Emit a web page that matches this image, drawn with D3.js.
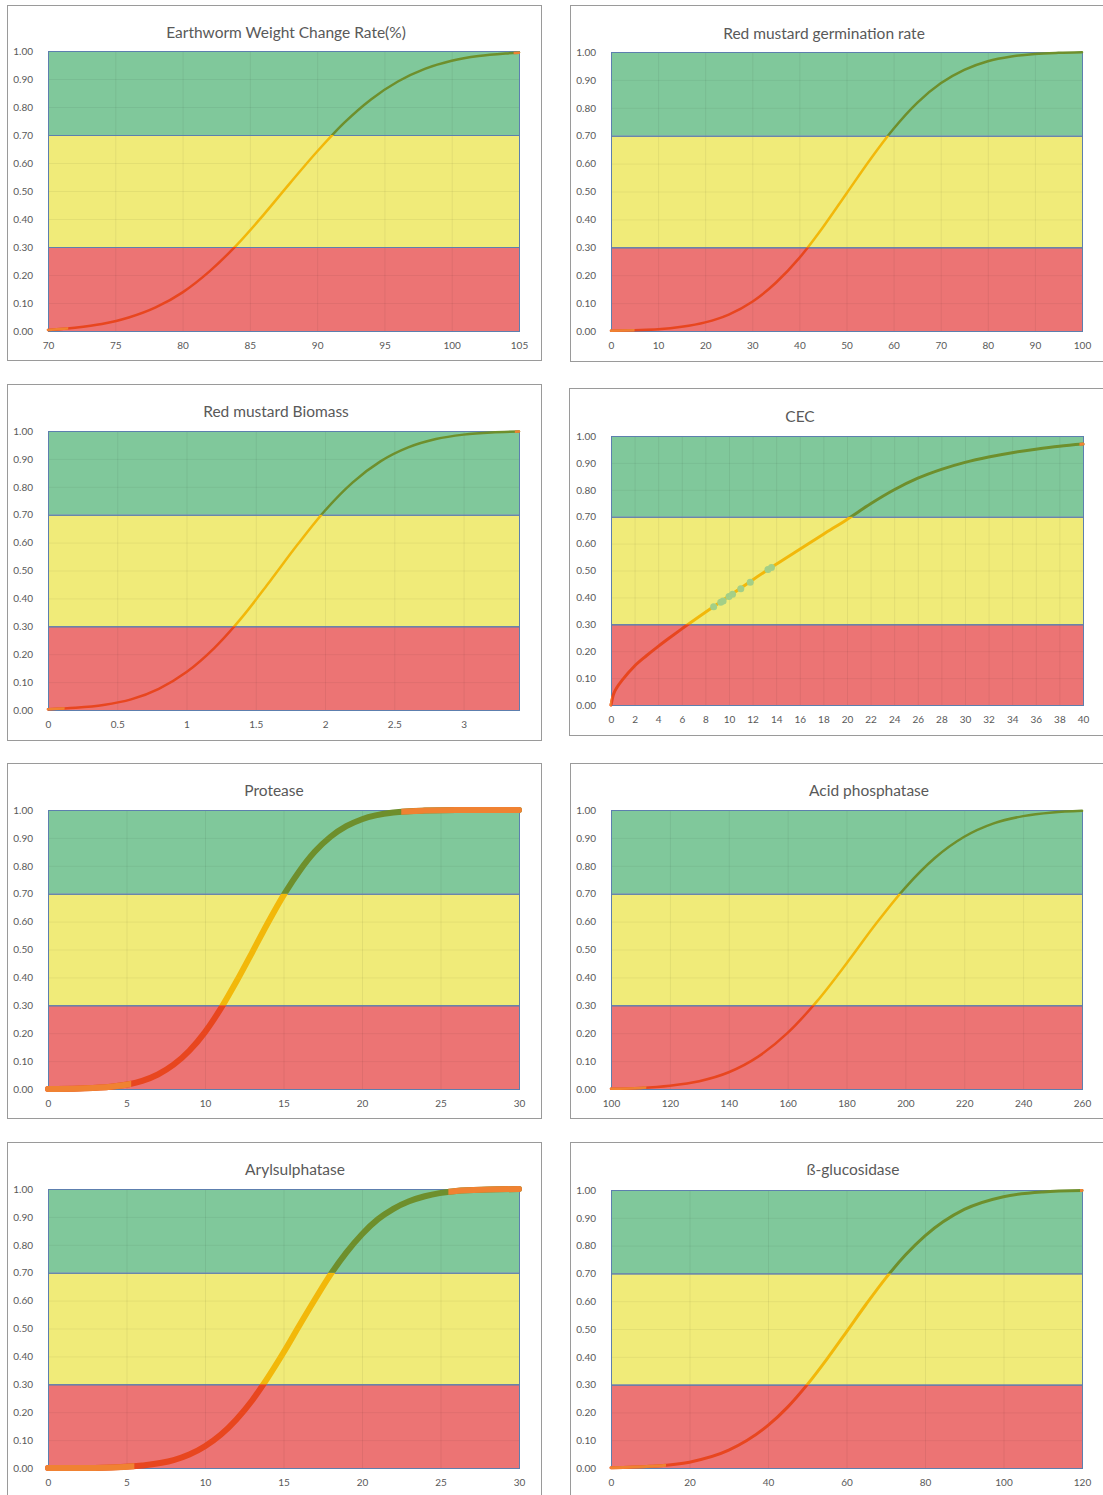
<!DOCTYPE html>
<html>
<head>
<meta charset="utf-8">
<script src="https://cdn.jsdelivr.net/npm/d3@7"></script>
<style>
  body { margin: 0; background: #fff; }
  svg text { font-family: Lato, "Open Sans", sans-serif; fill: #595959; }
</style>
</head>
<body>
<svg id="chart" width="1103" height="1495"></svg>
<script>
// ---- data ----
const titles = ["Earthworm Weight Change Rate(%)", "Red mustard germination rate", "Red mustard Biomass", "CEC",
  "Protease", "Acid phosphatase", "Arylsulphatase", "ß-glucosidase"];

const yTicks = [0, 0.1, 0.2, 0.3, 0.4, 0.5, 0.6, 0.7, 0.8, 0.9, 1.0];
const bandEdges = [0, 0.3, 0.7, 1.0];

const earthwormX = [70, 72, 74, 76, 78, 80, 82, 84, 86, 88, 90, 92, 94, 96, 98, 100, 102, 104, 105];
const earthwormY = [0.004, 0.012, 0.025, 0.048, 0.084, 0.138, 0.213, 0.306, 0.414, 0.529, 0.641, 0.743, 0.827, 0.891, 0.936, 0.965, 0.982, 0.991, 0.994];
const earthwormTicks = [70, 75, 80, 85, 90, 95, 100, 105];
const earthwormTails = [[70, 71.5], [104.6, 105]];

const germX = [0, 5, 10, 15, 20, 25, 30, 35, 40, 45, 50, 55, 60, 65, 70, 75, 80, 85, 90, 95, 100];
const germY = [0.001, 0.003, 0.006, 0.015, 0.031, 0.059, 0.105, 0.173, 0.262, 0.372, 0.493, 0.614, 0.725, 0.818, 0.888, 0.936, 0.967, 0.984, 0.993, 0.997, 0.999];
const germTicks = [0, 10, 20, 30, 40, 50, 60, 70, 80, 90, 100];
const germTails = [[0, 5]];

const biomassX = [0, 0.2, 0.4, 0.6, 0.8, 1.0, 1.2, 1.4, 1.6, 1.8, 2.0, 2.2, 2.4, 2.6, 2.8, 3.0, 3.2, 3.4];
const biomassY = [0.003, 0.008, 0.018, 0.038, 0.076, 0.136, 0.222, 0.332, 0.46, 0.592, 0.715, 0.816, 0.891, 0.941, 0.971, 0.987, 0.995, 0.998];
const biomassTicks = [0, 0.5, 1, 1.5, 2, 2.5, 3];
const biomassTails = [[0, 0.12], [3.37, 3.4]];

const cecX = [0, 0.2, 0.5, 1, 2, 3, 4, 5, 6, 8, 10, 12, 14, 16, 18, 20, 22, 24, 26, 28, 30, 32, 34, 36, 38, 40];
const cecY = [0, 0.038, 0.065, 0.095, 0.145, 0.183, 0.218, 0.251, 0.283, 0.345, 0.405, 0.465, 0.523, 0.579, 0.635, 0.69, 0.748, 0.8, 0.843, 0.876, 0.902, 0.922, 0.938, 0.951, 0.962, 0.97];
const cecTicks = [0, 2, 4, 6, 8, 10, 12, 14, 16, 18, 20, 22, 24, 26, 28, 30, 32, 34, 36, 38, 40];
const cecTails = [[0, 0.05], [39.7, 40]];
const cecSampleX = [8.7, 9.3, 9.5, 10.0, 10.3, 11.0, 11.8, 13.3, 13.6];
const cecSampleY = [0.365, 0.382, 0.387, 0.403, 0.412, 0.432, 0.456, 0.504, 0.511];

const proteaseX = [0, 2, 4, 6, 7, 8, 9, 10, 11, 12, 13, 14, 15, 16, 17, 18, 19, 20, 22, 24, 26, 28, 30];
const proteaseY = [0.0, 0.002, 0.008, 0.029, 0.052, 0.087, 0.137, 0.204, 0.288, 0.385, 0.489, 0.595, 0.694, 0.78, 0.851, 0.904, 0.942, 0.967, 0.991, 0.998, 1.0, 1.0, 1.0];
const proteaseTicks = [0, 5, 10, 15, 20, 25, 30];
const proteaseTails = [[0, 5.3], [22.5, 30]];

const acidX = [100, 110, 120, 130, 140, 150, 160, 170, 180, 190, 200, 210, 220, 230, 240, 250, 260];
const acidY = [0.001, 0.004, 0.012, 0.028, 0.06, 0.116, 0.201, 0.315, 0.45, 0.592, 0.722, 0.828, 0.904, 0.952, 0.978, 0.991, 0.997];
const acidTicks = [100, 120, 140, 160, 180, 200, 220, 240, 260];
const acidTails = [[100, 112]];

const arylX = [0, 2, 4, 6, 8, 9, 10, 11, 12, 13, 14, 15, 16, 17, 18, 19, 20, 21, 22, 23, 24, 26, 28, 30];
const arylY = [0.0, 0.0, 0.002, 0.009, 0.028, 0.048, 0.078, 0.119, 0.174, 0.242, 0.324, 0.414, 0.51, 0.604, 0.694, 0.772, 0.838, 0.891, 0.929, 0.956, 0.974, 0.993, 0.998, 1.0];
const arylTicks = [0, 5, 10, 15, 20, 25, 30];
const arylTails = [[0, 5.5], [25.5, 30]];

const glucX = [0, 10, 20, 30, 40, 45, 50, 55, 60, 65, 70, 75, 80, 90, 100, 110, 120];
const glucY = [0.001, 0.006, 0.021, 0.064, 0.153, 0.219, 0.3, 0.392, 0.49, 0.589, 0.683, 0.766, 0.835, 0.93, 0.976, 0.993, 0.998];
const glucTicks = [0, 20, 40, 60, 80, 100, 120];
const glucTails = [[0, 14], [119.5, 120]];

// ---- layout ----
const bandColors = ["#ec7474", "#f0eb79", "#80c89b"];
const curveColors = ["#e8461f", "#f2b80a", "#6e8f2c"];
const tailColor = "#f08232";

const panels = [
  {xs: earthwormX, ys: earthwormY, ticks: earthwormTicks, domain: [70, 105], tails: earthwormTails,
   box: [7, 5, 534, 355], plot: [48, 519, 51, 331], tx: 286, ty: 38, lw: 2.5},
  {xs: germX, ys: germY, ticks: germTicks, domain: [0, 100], tails: germTails,
   box: [570, 5, 545, 356], plot: [611, 1082, 52, 331], tx: 824, ty: 39, lw: 2.5},
  {xs: biomassX, ys: biomassY, ticks: biomassTicks, domain: [0, 3.4], tails: biomassTails,
   box: [7, 384, 534, 356], plot: [48, 519, 431, 710], tx: 276, ty: 417, lw: 2.5},
  {xs: cecX, ys: cecY, ticks: cecTicks, domain: [0, 40], tails: cecTails, sx: cecSampleX, sy: cecSampleY,
   box: [569, 388, 545, 347], plot: [611, 1083, 436, 705], tx: 800, ty: 422, lw: 3},
  {xs: proteaseX, ys: proteaseY, ticks: proteaseTicks, domain: [0, 30], tails: proteaseTails,
   box: [7, 763, 534, 355], plot: [48, 519, 810, 1089], tx: 274, ty: 796, lw: 6},
  {xs: acidX, ys: acidY, ticks: acidTicks, domain: [100, 260], tails: acidTails,
   box: [570, 763, 545, 355], plot: [611, 1082, 810, 1089], tx: 869, ty: 796, lw: 2.5},
  {xs: arylX, ys: arylY, ticks: arylTicks, domain: [0, 30], tails: arylTails,
   box: [7, 1142, 534, 360], plot: [48, 519, 1189, 1468], tx: 295, ty: 1175, lw: 6},
  {xs: glucX, ys: glucY, ticks: glucTicks, domain: [0, 120], tails: glucTails,
   box: [570, 1142, 545, 360], plot: [611, 1082, 1190, 1468], tx: 853, ty: 1175, lw: 3}
];

const svg = d3.select("#chart");
const defs = svg.append("defs");

panels.forEach((p, i) => {
  const [l, r, t, b] = p.plot;
  const x = d3.scaleLinear().domain(p.domain).range([l, r]);
  const y = d3.scaleLinear().domain([0, 1]).range([b, t]);
  const g = svg.append("g");

  // panel frame
  g.append("rect")
    .attr("x", p.box[0] + 0.5).attr("y", p.box[1] + 0.5)
    .attr("width", p.box[2]).attr("height", p.box[3])
    .attr("fill", "#fff").attr("stroke", "#9a9a9a");

  g.append("text")
    .attr("x", p.tx).attr("y", p.ty)
    .attr("text-anchor", "middle")
    .style("font-size", "15.5px")
    .text(titles[i]);

  // coloured bands
  for (let k = 0; k < 3; k++) {
    g.append("rect")
      .attr("x", l).attr("y", y(bandEdges[k + 1]))
      .attr("width", r - l).attr("height", y(bandEdges[k]) - y(bandEdges[k + 1]))
      .attr("fill", bandColors[k]);
  }

  // faint grid
  g.append("g")
    .attr("transform", `translate(0,${b})`)
    .call(d3.axisBottom(x).tickValues(p.ticks).tickSize(-(b - t)).tickFormat(""))
    .call(s => s.select(".domain").remove())
    .selectAll("line").attr("stroke", "#000").attr("stroke-opacity", 0.06);
  g.append("g")
    .attr("transform", `translate(${l},0)`)
    .call(d3.axisLeft(y).tickValues(yTicks).tickSize(-(r - l)).tickFormat(""))
    .call(s => s.select(".domain").remove())
    .selectAll("line").attr("stroke", "#000").attr("stroke-opacity", 0.05);

  // band borders
  for (let k = 0; k < 3; k++) {
    g.append("rect")
      .attr("x", l + 0.5).attr("y", y(bandEdges[k + 1]) + 0.5)
      .attr("width", r - l).attr("height", y(bandEdges[k]) - y(bandEdges[k + 1]))
      .attr("fill", "none").attr("stroke", "#5d7fae").attr("stroke-width", 1);
  }

  // axes labels
  const ya = g.append("g")
    .attr("transform", `translate(${l - 12},0)`)
    .call(d3.axisLeft(y).tickValues(yTicks).tickSize(0).tickFormat(d3.format(".2f")));
  ya.select(".domain").remove();
  ya.selectAll("text").style("font-size", "10px").style("font-family", "Lato, sans-serif").attr("fill", "#595959");

  const xa = g.append("g")
    .attr("transform", `translate(0,${b + 8})`)
    .call(d3.axisBottom(x).tickValues(p.ticks).tickSize(0).tickFormat(d => String(d)));
  xa.select(".domain").remove();
  xa.selectAll("text").style("font-size", "10px").style("font-family", "Lato, sans-serif").attr("fill", "#595959");

  // curve coloured by band
  const pts = p.xs.map((v, j) => [v, p.ys[j]]);
  const line = d3.line().x(d => x(d[0])).y(d => y(d[1])).curve(d3.curveMonotoneX);
  for (let k = 0; k < 3; k++) {
    const id = `clip-${i}-${k}`;
    const y0 = k === 2 ? t - 20 : y(bandEdges[k + 1]);
    const y1 = k === 0 ? b + 20 : y(bandEdges[k]);
    defs.append("clipPath").attr("id", id)
      .append("rect").attr("x", l - 20).attr("y", y0).attr("width", r - l + 40).attr("height", y1 - y0);
    g.append("path")
      .datum(pts)
      .attr("clip-path", `url(#${id})`)
      .attr("d", line)
      .attr("fill", "none")
      .attr("stroke", curveColors[k])
      .attr("stroke-width", p.lw)
      .attr("stroke-linecap", "round");
  }

  // orange tails
  p.tails.forEach((tl, k) => {
    const id = `tail-${i}-${k}`;
    const x0 = tl[0] === p.domain[0] ? l - 20 : x(tl[0]);
    const x1 = tl[1] === p.domain[1] ? r + 20 : x(tl[1]);
    defs.append("clipPath").attr("id", id)
      .append("rect").attr("x", x0).attr("y", t - 20).attr("width", x1 - x0).attr("height", b - t + 40);
    g.append("path")
      .datum(pts)
      .attr("clip-path", `url(#${id})`)
      .attr("d", line)
      .attr("fill", "none")
      .attr("stroke", tailColor)
      .attr("stroke-width", p.lw)
      .attr("stroke-linecap", "round");
  });

  // measured samples (CEC)
  if (p.sx) {
    g.selectAll(".sample")
      .data(p.sx.map((v, j) => [v, p.sy[j]]))
      .enter().append("circle")
        .attr("class", "sample")
        .attr("cx", d => x(d[0]))
        .attr("cy", d => y(d[1]))
        .attr("r", 3.5)
        .attr("fill", "#a3cf87");
  }
});
</script>
</body>
</html>
